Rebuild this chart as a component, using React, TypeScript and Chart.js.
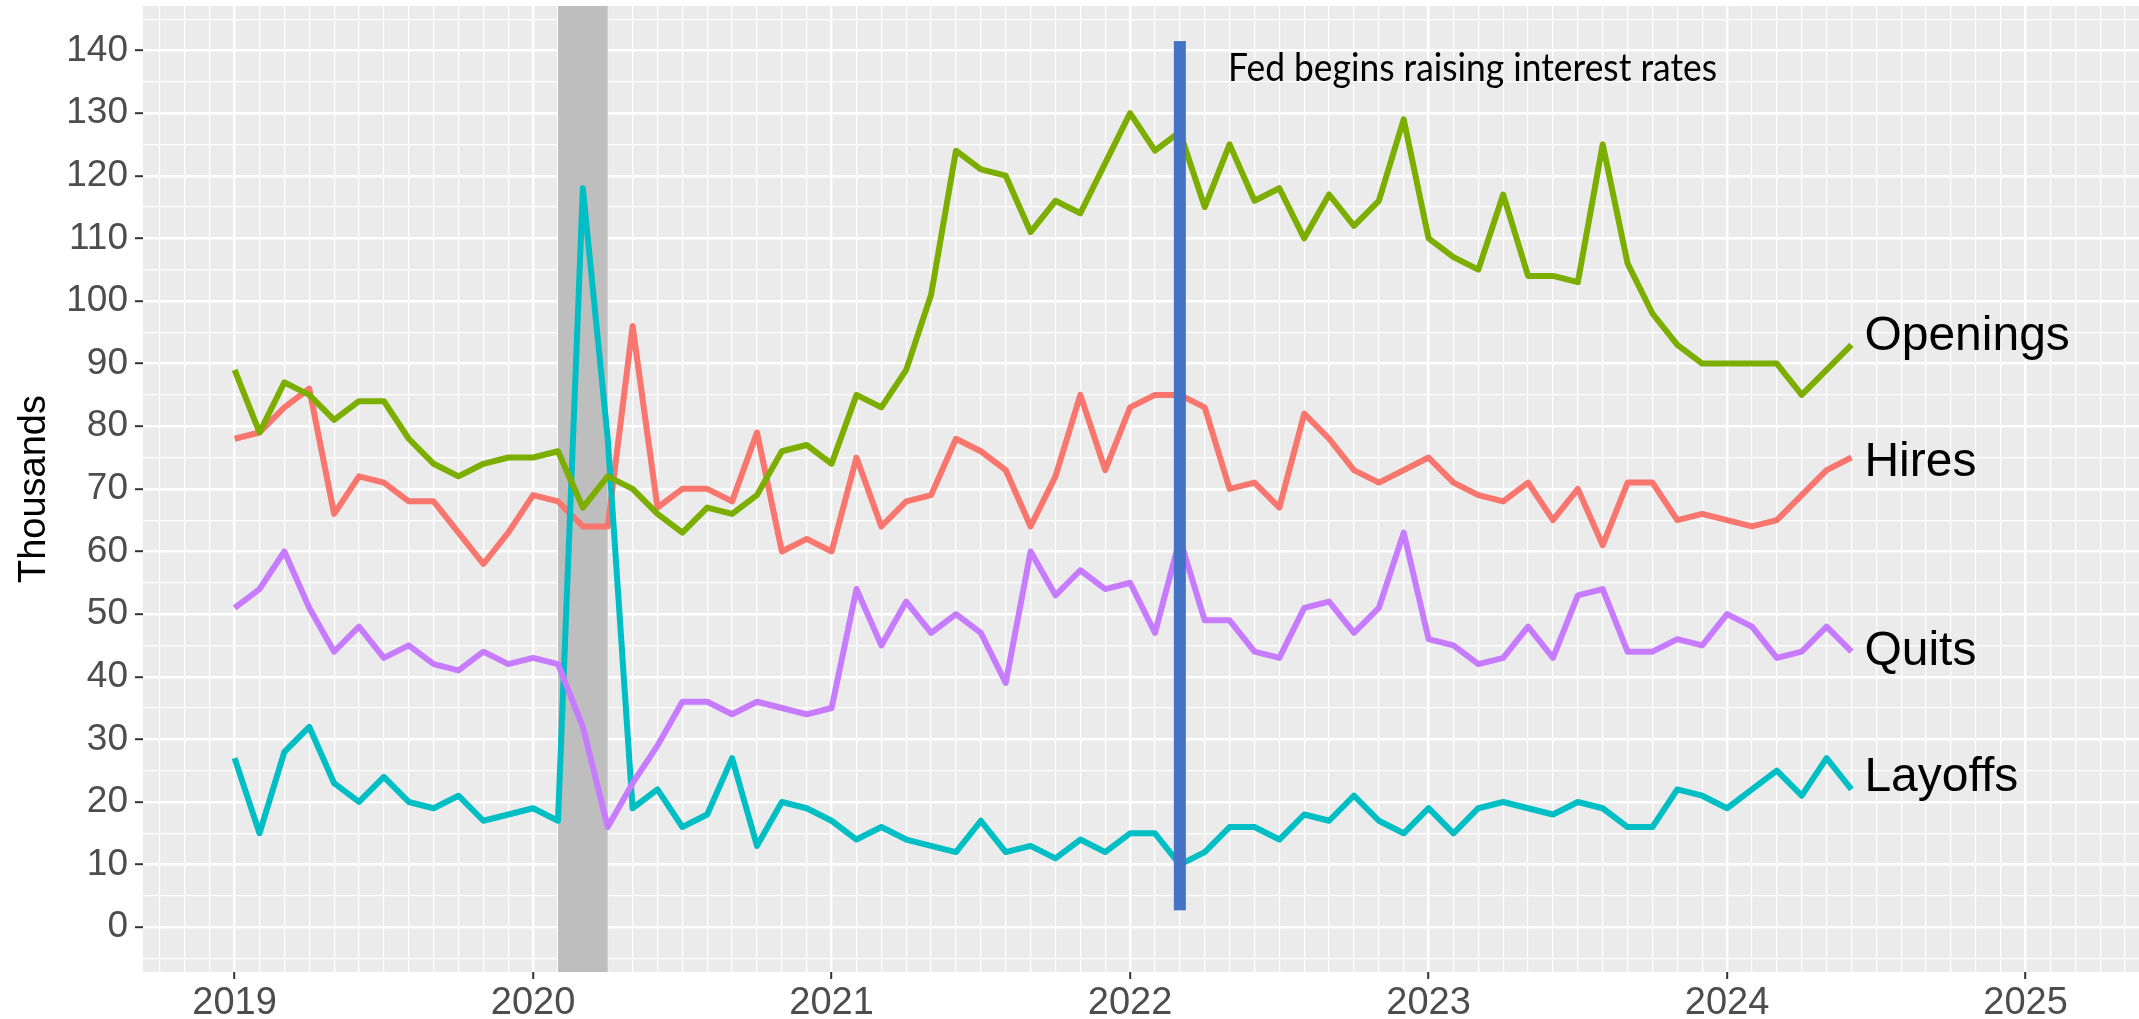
import React, { useEffect, useRef } from 'react';
import { Chart, registerables } from 'chart.js';

Chart.register(...registerables);

// ---------------- Data ----------------
const START_YEAR = 2019; // first observation: Jan 2019, monthly
const openings = [
  89, 79, 87, 85, 81, 84, 84, 78, 74, 72, 74, 75,
  75, 76, 67, 72, 70, 66, 63, 67, 66, 69, 76, 77,
  74, 85, 83, 89, 101, 124, 121, 120, 111, 116, 114, 122,
  130, 124, 127, 115, 125, 116, 118, 110, 117, 112, 116, 129,
  110, 107, 105, 117, 104, 104, 103, 125, 106, 98, 93, 90,
  90, 90, 90, 85, 89, 93,
];
const hires = [
  78, 79, 83, 86, 66, 72, 71, 68, 68, 63, 58, 63,
  69, 68, 64, 64, 96, 67, 70, 70, 68, 79, 60, 62,
  60, 75, 64, 68, 69, 78, 76, 73, 64, 72, 85, 73,
  83, 85, 85, 83, 70, 71, 67, 82, 78, 73, 71, 73,
  75, 71, 69, 68, 71, 65, 70, 61, 71, 71, 65, 66,
  65, 64, 65, 69, 73, 75,
];
const quits = [
  51, 54, 60, 51, 44, 48, 43, 45, 42, 41, 44, 42,
  43, 42, 32, 16, 23, 29, 36, 36, 34, 36, 35, 34,
  35, 54, 45, 52, 47, 50, 47, 39, 60, 53, 57, 54,
  55, 47, 62, 49, 49, 44, 43, 51, 52, 47, 51, 63,
  46, 45, 42, 43, 48, 43, 53, 54, 44, 44, 46, 45,
  50, 48, 43, 44, 48, 44,
];
const layoffs = [
  27, 15, 28, 32, 23, 20, 24, 20, 19, 21, 17, 18,
  19, 17, 118, 78, 19, 22, 16, 18, 27, 13, 20, 19,
  17, 14, 16, 14, 13, 12, 17, 12, 13, 11, 14, 12,
  15, 15, 10, 12, 16, 16, 14, 18, 17, 21, 17, 15,
  19, 15, 19, 20, 19, 18, 20, 19, 16, 16, 22, 21,
  19, 22, 25, 21, 27, 22,
];
const months = openings.map((_, i) => START_YEAR + i / 12);

const seriesNames = ['Openings', 'Hires', 'Quits', 'Layoffs'];
const seriesLabelY = [92.1, 72.1, 41.9, 21.8]; // label baselines (value units)
const seriesLabelX = 2024.46;

const yTickLabels = [0, 10, 20, 30, 40, 50, 60, 70, 80, 90, 100, 110, 120, 130, 140];
const xTickLabels = [2019, 2020, 2021, 2022, 2023, 2024, 2025];

const recessionStart = 2020 + 1 / 12; // Feb 2020
const recessionEnd = 2020 + 3 / 12; // Apr 2020
const fedLineX = 2022 + 2 / 12; // Mar 2022
const fedLineFrom = 2.7;
const fedLineTo = 141.5;
const annotationText = 'Fed begins raising interest rates';
const annotationX = 2022.328;
const annotationY = 135.2;

const X_MIN = 2018.6931;
const X_MAX = 2025.38;
const Y_MIN = -7.15;
const Y_MAX = 147.1;

// ---------------- Styles ----------------
const COLORS = {
  Openings: '#7CAE00',
  Hires: '#F8766D',
  Quits: '#C77CFF',
  Layoffs: '#00BFC4',
};
const PANEL_BG = '#EBEBEB';
const RECESSION_BG = '#BEBEBE';
const FED_BLUE = '#4472C4';
const SANS = "'Liberation Sans', Arial, Helvetica, sans-serif";

const isInt = (v: number) => Math.abs(v - Math.round(v)) < 1e-6;

export default function App() {
  const canvasRef = useRef<HTMLCanvasElement | null>(null);

  useEffect(() => {
    const canvas = canvasRef.current;
    if (!canvas) return;

    const decorations = {
      id: 'decorations',
      beforeDraw(chart: any) {
        const { ctx, chartArea } = chart;
        ctx.save();
        ctx.fillStyle = PANEL_BG;
        ctx.fillRect(chartArea.left, chartArea.top, chartArea.right - chartArea.left, chartArea.bottom - chartArea.top);
        ctx.restore();
      },
      beforeDatasetsDraw(chart: any) {
        const { ctx, chartArea, scales } = chart;
        const x1 = scales.x.getPixelForValue(recessionStart);
        const x2 = scales.x.getPixelForValue(recessionEnd);
        ctx.save();
        ctx.fillStyle = RECESSION_BG;
        ctx.fillRect(x1, chartArea.top, x2 - x1, chartArea.bottom - chartArea.top);
        ctx.restore();
      },
      afterDatasetsDraw(chart: any) {
        const { ctx, chartArea, scales } = chart;
        const xs = scales.x;
        const ys = scales.y;
        ctx.save();
        // Fed vertical bar
        const fx = xs.getPixelForValue(fedLineX);
        const fy1 = ys.getPixelForValue(fedLineTo);
        const fy2 = ys.getPixelForValue(fedLineFrom);
        ctx.fillStyle = FED_BLUE;
        ctx.fillRect(fx - 6, fy1, 12, fy2 - fy1);

        // annotation text
        ctx.fillStyle = '#000000';
        ctx.font = "38px Lato, 'Open Sans', sans-serif";
        ctx.textBaseline = 'alphabetic';
        ctx.textAlign = 'left';
        const w = ctx.measureText(annotationText).width;
        const ax = xs.getPixelForValue(annotationX);
        const ay = ys.getPixelForValue(annotationY);
        ctx.save();
        ctx.translate(ax, ay);
        ctx.scale(489 / w, 1);
        ctx.fillText(annotationText, 0, 0);
        ctx.restore();

        // series labels
        ctx.font = `48px ${SANS}`;
        ctx.fillStyle = '#000000';
        seriesNames.forEach((name, i) => {
          ctx.fillText(name, xs.getPixelForValue(seriesLabelX), ys.getPixelForValue(seriesLabelY[i]));
        });

        // y-axis title
        ctx.save();
        ctx.translate(35, (chartArea.top + chartArea.bottom) / 2);
        ctx.rotate(-Math.PI / 2);
        ctx.font = `38px ${SANS}`;
        ctx.textAlign = 'center';
        ctx.textBaseline = 'middle';
        ctx.fillText('Thousands', 0, 0);
        ctx.restore();

        ctx.restore();
      },
    };

    const mk = (name: string, values: number[], order: number) => ({
      label: name,
      data: months.map((m, i) => ({ x: m, y: values[i] })),
      borderColor: (COLORS as any)[name],
      backgroundColor: (COLORS as any)[name],
      borderWidth: 6,
      pointRadius: 0,
      pointHoverRadius: 0,
      tension: 0,
      fill: false,
      borderJoinStyle: 'round',
      order,
    });

    const chart = new Chart(canvas, {
      type: 'line',
      data: {
        datasets: [
          mk('Quits', quits, 0),
          mk('Openings', openings, 1),
          mk('Layoffs', layoffs, 2),
          mk('Hires', hires, 3),
        ] as any,
      },
      options: {
        responsive: false,
        animation: false,
        devicePixelRatio: 1,
        layout: { padding: { top: 6, right: 0, left: 0, bottom: 0 } },
        plugins: { legend: { display: false }, tooltip: { enabled: false } },
        scales: {
          x: {
            type: 'linear',
            min: X_MIN,
            max: X_MAX,
            afterBuildTicks: (scale: any) => {
              const t: any[] = [];
              for (let k = Math.ceil(X_MIN * 12); k <= Math.floor(X_MAX * 12); k++) t.push({ value: k / 12 });
              scale.ticks = t;
            },
            afterFit: (scale: any) => {
              scale.height = 47;
              scale.paddingLeft = 0;
              scale.paddingRight = 0;
            },
            border: { display: false },
            grid: {
              color: '#FFFFFF',
              lineWidth: (c: any) => (isInt(c.tick.value) ? 2.4 : 1.2),
              tickColor: (c: any) => (isInt(c.tick.value) && xTickLabels.includes(Math.round(c.tick.value)) ? '#333333' : 'rgba(0,0,0,0)'),
              tickLength: 7,
              tickWidth: 2,
            },
            ticks: {
              autoSkip: false,
              maxRotation: 0,
              minRotation: 0,
              padding: 2,
              color: '#4D4D4D',
              font: { family: SANS, size: 38 },
              callback: (v: any) => (isInt(v) && xTickLabels.includes(Math.round(v)) ? String(Math.round(v)) : ''),
            },
          },
          y: {
            type: 'linear',
            min: Y_MIN,
            max: Y_MAX,
            afterBuildTicks: (scale: any) => {
              const t: any[] = [];
              for (let v = -5; v <= 145; v += 5) t.push({ value: v });
              scale.ticks = t;
            },
            afterFit: (scale: any) => {
              scale.width = 143;
              scale.paddingTop = 0;
              scale.paddingBottom = 0;
            },
            border: { display: false },
            grid: {
              color: '#FFFFFF',
              lineWidth: (c: any) => (c.tick.value % 10 === 0 ? 2.4 : 1.2),
              tickColor: (c: any) => (yTickLabels.includes(c.tick.value) ? '#333333' : 'rgba(0,0,0,0)'),
              tickLength: 8,
              tickWidth: 2,
            },
            ticks: {
              autoSkip: false,
              padding: 7,
              color: '#4D4D4D',
              font: { family: SANS, size: 37 },
              callback: (v: any) => (yTickLabels.includes(v) ? String(v) : ''),
            },
          },
        },
      } as any,
      plugins: [decorations],
    });

    return () => chart.destroy();
  }, []);

  return (
    <div style={{ position: 'fixed', left: 0, top: 0, width: 2139, height: 1019, background: '#FFFFFF' }}>
      <canvas ref={canvasRef} width={2139} height={1019} style={{ display: 'block', width: 2139, height: 1019 }} />
    </div>
  );
}
